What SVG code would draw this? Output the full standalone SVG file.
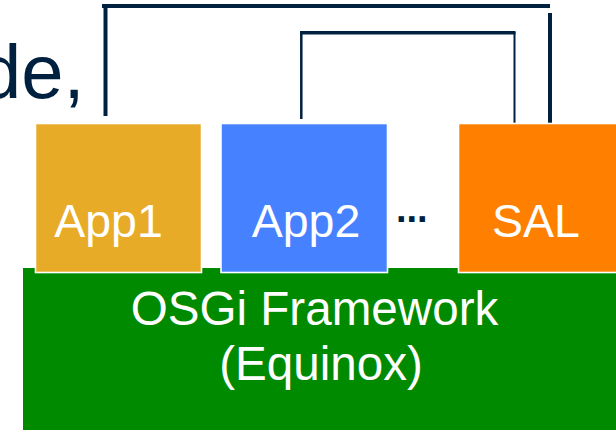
<svg xmlns="http://www.w3.org/2000/svg" width="616" height="430" viewBox="0 0 616 430">
<style>
text{font-family:"Liberation Sans",Arial,sans-serif}
.l{font-size:47.600px;fill:#fff;text-anchor:middle}
.a{font-size:46.500px;fill:#fff;text-anchor:middle}
.box{stroke:#fff;stroke-width:1.600}
.c{fill:none;stroke:#002040;stroke-linecap:butt;stroke-linejoin:miter}
</style>
<rect width="616" height="430" fill="#fff"/>
<text id="fragment" x="-21" y="98" font-size="76" fill="#002040">de,</text>
<g id="connectors">
<path class="c" stroke-width="4" d="M105.500 116V6"/>
<path class="c" stroke-width="4" d="M102 6H550"/>
<path class="c" stroke-width="4" d="M550 13V123"/>
<path class="c" stroke-width="2.500" d="M301.300 119V32"/>
<path class="c" stroke-width="3.500" d="M300 32.700H515.500"/>
<path class="c" stroke-width="2" d="M514.500 32V123"/>
</g>
<g id="osgi">
<rect x="23" y="268" width="593" height="162" fill="#008a00"/>
<text class="l" x="314.500" y="325">OSGi Framework</text>
<text class="l" x="321" y="380">(Equinox)</text>
</g>
<g id="app1">
<rect class="box" x="35.500" y="123.500" width="166" height="149" fill="#e8ab27"/>
<text class="a" x="108.500" y="237">App1</text>
</g>
<g id="app2">
<rect class="box" x="221" y="123.500" width="166.500" height="149" fill="#4682ff"/>
<text class="a" x="306" y="237">App2</text>
</g>
<g id="sal">
<rect class="box" x="458.500" y="123.500" width="160" height="149" fill="#ff7f00"/>
<text class="a" x="536" y="237">SAL</text>
</g>
<text id="dots" x="396" y="222" font-size="38" font-weight="bold" fill="#002040">...</text>
</svg>
